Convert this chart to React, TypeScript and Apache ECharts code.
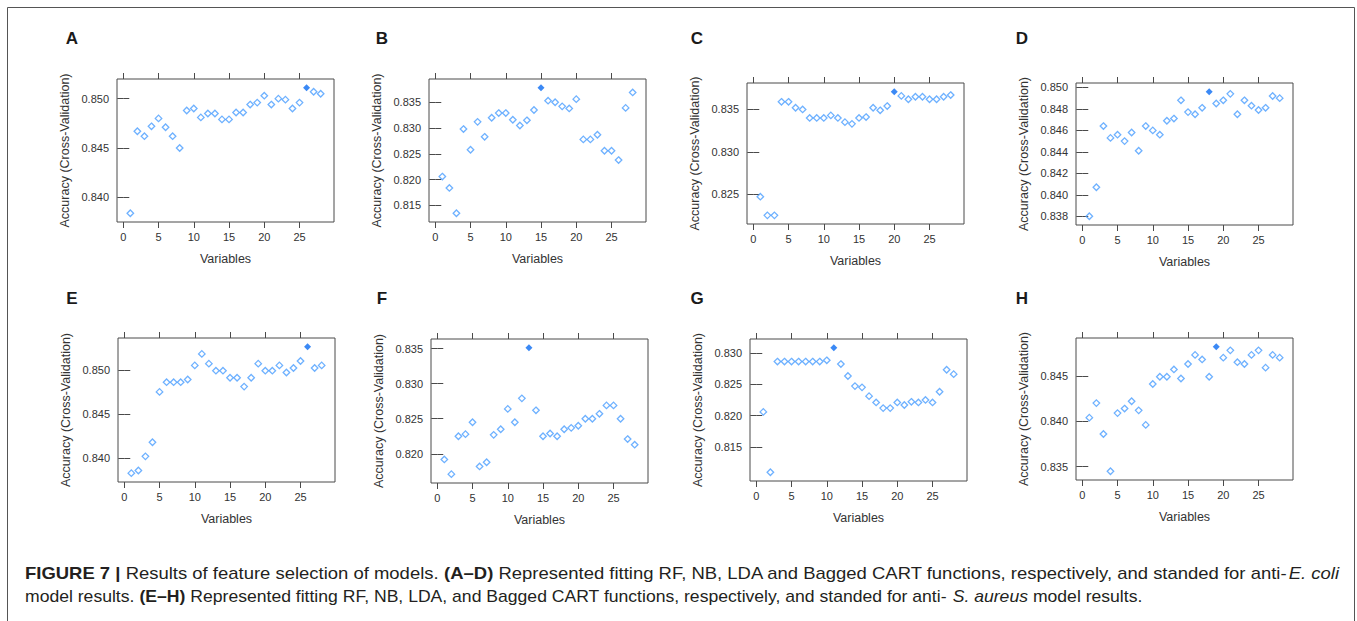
import React, { useEffect, useRef } from "react";
import * as echarts from "echarts";

// ---- data ----
const variables = [1, 2, 3, 4, 5, 6, 7, 8, 9, 10, 11, 12, 13, 14, 15, 16, 17, 18, 19, 20, 21, 22, 23, 24, 25, 26, 27, 28];
const xTickValues = [0, 5, 10, 15, 20, 25];

const accA = [0.8384, 0.8467, 0.8462, 0.8472, 0.848, 0.8471, 0.8462, 0.845, 0.8488, 0.849, 0.8481, 0.8485, 0.8485, 0.8479, 0.8479, 0.8486, 0.8486, 0.8494, 0.8496, 0.8503, 0.8494, 0.85, 0.8499, 0.849, 0.8496, 0.8511, 0.8507, 0.8505];
const accB = [0.8206, 0.8184, 0.8135, 0.8298, 0.8258, 0.8312, 0.8283, 0.832, 0.8329, 0.8329, 0.8316, 0.8305, 0.8315, 0.8335, 0.8378, 0.8353, 0.835, 0.8342, 0.8338, 0.8356, 0.8278, 0.8278, 0.8287, 0.8256, 0.8256, 0.8238, 0.8339, 0.8369];
const accC = [0.8247, 0.8225, 0.8225, 0.8359, 0.8359, 0.8352, 0.835, 0.834, 0.834, 0.834, 0.8343, 0.834, 0.8335, 0.8333, 0.834, 0.8341, 0.8352, 0.8349, 0.8354, 0.8371, 0.8366, 0.8362, 0.8365, 0.8365, 0.8362, 0.8362, 0.8365, 0.8367];
const accD = [0.838, 0.8407, 0.8464, 0.8453, 0.8456, 0.845, 0.8458, 0.8441, 0.8464, 0.846, 0.8456, 0.8469, 0.8471, 0.8488, 0.8477, 0.8475, 0.8481, 0.8496, 0.8485, 0.8488, 0.8494, 0.8475, 0.8488, 0.8483, 0.8479, 0.8481, 0.8492, 0.849];
const accE = [0.8383, 0.8386, 0.8402, 0.8418, 0.8475, 0.8486, 0.8486, 0.8486, 0.8489, 0.8505, 0.8518, 0.8507, 0.8499, 0.8499, 0.8491, 0.8491, 0.8481, 0.8491, 0.8507, 0.8499, 0.8499, 0.8505, 0.8497, 0.8502, 0.851, 0.8526, 0.8502, 0.8505];
const accF = [0.8192, 0.8171, 0.8225, 0.8228, 0.8245, 0.8182, 0.8188, 0.8227, 0.8235, 0.8264, 0.8245, 0.8279, 0.8351, 0.8262, 0.8225, 0.8229, 0.8225, 0.8235, 0.8237, 0.824, 0.825, 0.825, 0.8257, 0.8269, 0.8269, 0.825, 0.8221, 0.8213];
const accG = [0.8206, 0.811, 0.8286, 0.8286, 0.8286, 0.8286, 0.8286, 0.8286, 0.8286, 0.8288, 0.8308, 0.8282, 0.8263, 0.8247, 0.8245, 0.8231, 0.8221, 0.8212, 0.8212, 0.8221, 0.8217, 0.8222, 0.8221, 0.8225, 0.8221, 0.8238, 0.8273, 0.8266];
const accH = [0.8404, 0.842, 0.8386, 0.8345, 0.8409, 0.8414, 0.8422, 0.8412, 0.8396, 0.8441, 0.8449, 0.8449, 0.8457, 0.8447, 0.8463, 0.8473, 0.8468, 0.8449, 0.8482, 0.847, 0.8478, 0.8465, 0.8463, 0.8473, 0.8478, 0.8459, 0.8473, 0.847];

const ticksA = [0.84, 0.845, 0.85];
const ticksB = [0.815, 0.82, 0.825, 0.83, 0.835];
const ticksC = [0.825, 0.83, 0.835];
const ticksD = [0.838, 0.84, 0.842, 0.844, 0.846, 0.848, 0.85];
const ticksE = [0.84, 0.845, 0.85];
const ticksF = [0.82, 0.825, 0.83, 0.835];
const ticksG = [0.815, 0.82, 0.825, 0.83];
const ticksH = [0.835, 0.84, 0.845];

const panelLetters = ["A", "B", "C", "D", "E", "F", "G", "H"];
const panelValues = [accA, accB, accC, accD, accE, accF, accG, accH];
const panelTicks = [ticksA, ticksB, ticksC, ticksD, ticksE, ticksF, ticksG, ticksH];

const xAxisName = "Variables";
const yAxisName = "Accuracy (Cross-Validation)";

const captionLine1 =
  "{b|FIGURE 7 |} Results of feature selection of models. {b|(A\u2013D)} Represented fitting RF, NB, LDA and Bagged CART functions, respectively, and standed for anti-{i|E. coli}";
const captionLine2 =
  "model results. {b|(E\u2013H)} Represented fitting RF, NB, LDA, and Bagged CART functions, respectively, and standed for anti- {i|S. aureus} model results.";

// ---- layout ----
const boxes = [
  { left: 117, top: 79, height: 143 },
  { left: 429, top: 79, height: 143 },
  { left: 747, top: 83, height: 141 },
  { left: 1076, top: 83, height: 142 },
  { left: 118, top: 338, height: 144 },
  { left: 431, top: 339, height: 144 },
  { left: 750, top: 339, height: 142 },
  { left: 1076, top: 338, height: 142 },
];
const letterPos = [
  [72, 38], [382, 38], [697, 38], [1022, 38],
  [72, 298], [382, 298], [697, 298], [1022, 298],
];
const BOX_W = 217;
const FONT = "'Liberation Sans', Arial, Helvetica, sans-serif";
const LINE = "#4a4a4a";
const TEXT = "#333333";

function pad(lo: number, hi: number) {
  const r = hi - lo;
  return [lo - 0.07 * r, hi + 0.07 * r];
}

export default function App() {
  const ref = useRef<HTMLDivElement>(null);
  useEffect(() => {
    document.body.style.margin = "0";
    const chart = echarts.init(ref.current!, null, { renderer: "svg" });
    const [xMin, xMax] = pad(variables[0], variables[variables.length - 1]);

    const grids: any[] = [];
    const xAxes: any[] = [];
    const yAxes: any[] = [];
    const series: any[] = [];
    const graphics: any[] = [];

    panelValues.forEach((vals, i) => {
      const b = boxes[i];
      grids.push({
        left: b.left, top: b.top, width: BOX_W, height: b.height,
        show: true, borderColor: LINE, borderWidth: 1, backgroundColor: "transparent",
      });
      const [yMin, yMax] = pad(Math.min(...vals), Math.max(...vals));
      const ticks = panelTicks[i];
      const tickStyle = { show: true, inside: false, length: 6, lineStyle: { color: LINE, width: 1 } };
      xAxes.push({
        gridIndex: i, type: "value", position: "bottom", min: xMin, max: xMax,
        axisLine: { show: false }, splitLine: { show: false },
        axisTick: { ...tickStyle, customValues: xTickValues },
        axisLabel: { customValues: xTickValues, margin: 9, fontSize: 11, color: TEXT, fontFamily: FONT },
        name: xAxisName, nameLocation: "middle", nameGap: 30,
        nameTextStyle: { fontSize: 12.5, color: TEXT, fontFamily: FONT },
      });
      xAxes.push({
        gridIndex: i, type: "value", position: "top", min: xMin, max: xMax,
        axisLine: { show: false }, splitLine: { show: false },
        axisTick: { ...tickStyle, customValues: xTickValues },
        axisLabel: { show: false },
      });
      yAxes.push({
        gridIndex: i, type: "value", position: "left", min: yMin, max: yMax,
        axisLine: { show: false }, splitLine: { show: false },
        axisTick: { ...tickStyle, customValues: ticks },
        axisLabel: {
          customValues: ticks, margin: 8, fontSize: 11, color: TEXT, fontFamily: FONT,
          formatter: (v: number) => v.toFixed(3),
        },
        name: yAxisName, nameLocation: "middle", nameGap: 46, nameRotate: 90,
        nameTextStyle: { fontSize: 12.5, color: TEXT, fontFamily: FONT },
      });
      yAxes.push({
        gridIndex: i, type: "value", position: "right", min: yMin, max: yMax,
        axisLine: { show: false }, splitLine: { show: false },
        axisTick: { ...tickStyle, customValues: ticks },
        axisLabel: { show: false },
      });

      let best = 0;
      vals.forEach((v, j) => { if (v > vals[best]) best = j; });
      const openPts = variables
        .map((x, j) => [x, vals[j], j])
        .filter((p) => p[2] !== best)
        .map((p) => [p[0], p[1]]);
      series.push({
        type: "scatter", xAxisIndex: 2 * i, yAxisIndex: 2 * i, silent: true,
        symbol: "diamond", symbolSize: 6.5,
        itemStyle: { color: "rgba(255,255,255,0)", borderColor: "#4a9dff", borderWidth: 1.3 },
        data: openPts,
      });
      series.push({
        type: "scatter", xAxisIndex: 2 * i, yAxisIndex: 2 * i, silent: true,
        symbol: "diamond", symbolSize: 7,
        itemStyle: { color: "#0a6cf2" },
        data: [[variables[best], vals[best]]],
      });

      graphics.push({
        type: "text", x: letterPos[i][0], y: letterPos[i][1],
        style: {
          text: panelLetters[i], fill: "#1a1a1a", font: `bold 17px ${FONT}`,
          textAlign: "center", textVerticalAlign: "middle",
        },
      });
    });

    graphics.push({
      type: "rect", shape: { x: 7.5, y: 7.5, width: 1347, height: 640 },
      style: { fill: "none", stroke: "#555", lineWidth: 1 },
    });
    const rich = {
      b: { fontWeight: "bold", fontSize: 16, fontFamily: FONT, fill: "#231f20" },
      i: { fontStyle: "italic", fontSize: 16, fontFamily: FONT, fill: "#231f20" },
    };
    graphics.push({
      type: "text", x: 25, y: 573.5, scaleX: 1.155,
      style: {
        text: captionLine1, fill: "#231f20", fontSize: 16, fontFamily: FONT,
        textVerticalAlign: "middle", rich,
      },
    });
    graphics.push({
      type: "text", x: 25, y: 596.5, scaleX: 1.1,
      style: {
        text: captionLine2, fill: "#231f20", fontSize: 16, fontFamily: FONT,
        textVerticalAlign: "middle", rich,
      },
    });

    chart.setOption({
      animation: false,
      backgroundColor: "#ffffff",
      grid: grids,
      xAxis: xAxes,
      yAxis: yAxes,
      series,
      graphic: graphics,
    });
    return () => chart.dispose();
  }, []);
  return <div ref={ref} style={{ width: 1357, height: 621 }} />;
}
